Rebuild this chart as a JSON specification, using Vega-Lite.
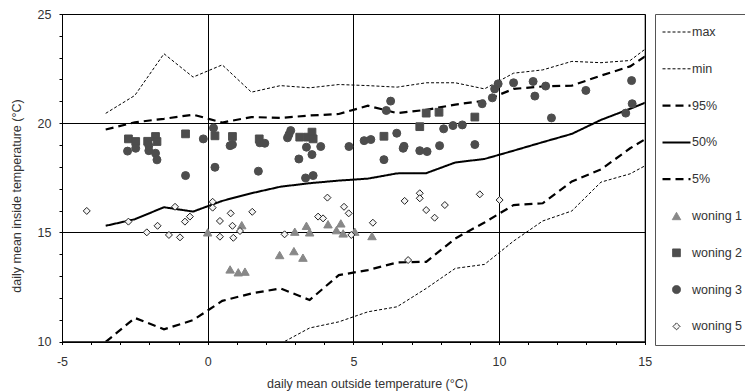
{
  "$schema": "https://vega.github.io/schema/vega-lite/v6.json",
  "width": 582.7,
  "height": 327.5,
  "autosize": "none",
  "padding": {"left": 62, "top": 14, "right": 100.3, "bottom": 50.5},
  "config": {
    "font": "Liberation Sans",
    "view": {"stroke": "#000", "strokeWidth": 1},
    "axis": {
      "domainColor": "#000", "tickColor": "#000", "gridColor": "#000", "gridWidth": 1,
      "tickSize": 3, "labelFont": "Liberation Sans", "labelFontSize": 12.5, "labelColor": "#333",
      "titleFont": "Liberation Sans", "titleFontSize": 12.5, "titleColor": "#333", "titleFontWeight": "normal",
      "labelFlush": false, "labelOverlap": false
    },
    "legend": {
      "orient": "right", "offset": 10, "padding": 6, "strokeColor": "#555", "strokeWidth": 1,
      "clipHeight": 24, "rowPadding": 12.8, "labelOffset": 0, "labelFontSize": 12.5,
      "labelColor": "#333", "labelFont": "Liberation Sans"
    }
  },
  "data": {"values": [
    {"series":"max","x":-3.5,"y":20.45},{"series":"max","x":-2.5,"y":21.27},{"series":"max","x":-1.5,"y":23.18},{"series":"max","x":-0.5,"y":22.11},{"series":"max","x":0.5,"y":22.67},{"series":"max","x":1.5,"y":21.42},{"series":"max","x":2.5,"y":21.72},{"series":"max","x":3.5,"y":21.62},{"series":"max","x":4.5,"y":21.77},{"series":"max","x":5.5,"y":21.72},{"series":"max","x":6.5,"y":21.65},{"series":"max","x":7.5,"y":21.85},{"series":"max","x":8.5,"y":21.85},{"series":"max","x":9.5,"y":21.57},{"series":"max","x":10.5,"y":22.29},{"series":"max","x":11.5,"y":22.44},{"series":"max","x":12.5,"y":22.83},{"series":"max","x":13.5,"y":22.77},{"series":"max","x":14.5,"y":22.87},{"series":"max","x":15.5,"y":23.88},
    {"series":"min","x":2.5,"y":9.9},{"series":"min","x":3.5,"y":10.62},{"series":"min","x":4.5,"y":10.9},{"series":"min","x":5.5,"y":11.36},{"series":"min","x":6.5,"y":11.59},{"series":"min","x":7.5,"y":12.43},{"series":"min","x":8.5,"y":13.35},{"series":"min","x":9.5,"y":13.53},{"series":"min","x":10.5,"y":14.6},{"series":"min","x":11.5,"y":15.52},{"series":"min","x":12.5,"y":15.98},{"series":"min","x":13.5,"y":17.3},{"series":"min","x":14.5,"y":17.68},{"series":"min","x":15.5,"y":18.4},
    {"series":"95%","x":-3.5,"y":19.71},{"series":"95%","x":-2.5,"y":20.04},{"series":"95%","x":-1.5,"y":20.2},{"series":"95%","x":-0.5,"y":20.39},{"series":"95%","x":0.5,"y":20.03},{"series":"95%","x":1.5,"y":20.28},{"series":"95%","x":2.5,"y":20.24},{"series":"95%","x":3.5,"y":20.35},{"series":"95%","x":4.5,"y":20.42},{"series":"95%","x":5.5,"y":20.8},{"series":"95%","x":6.5,"y":20.46},{"series":"95%","x":7.5,"y":20.61},{"series":"95%","x":8.5,"y":20.85},{"series":"95%","x":9.5,"y":21.03},{"series":"95%","x":10.5,"y":21.57},{"series":"95%","x":11.5,"y":21.68},{"series":"95%","x":12.5,"y":21.72},{"series":"95%","x":13.5,"y":22.18},{"series":"95%","x":14.5,"y":22.6},{"series":"95%","x":15.5,"y":23.5},
    {"series":"50%","x":-3.5,"y":15.3},{"series":"50%","x":-2.5,"y":15.6},{"series":"50%","x":-1.5,"y":16.15},{"series":"50%","x":-0.5,"y":15.95},{"series":"50%","x":0.5,"y":16.44},{"series":"50%","x":1.5,"y":16.79},{"series":"50%","x":2.5,"y":17.09},{"series":"50%","x":3.5,"y":17.25},{"series":"50%","x":4.5,"y":17.37},{"series":"50%","x":5.5,"y":17.46},{"series":"50%","x":6.5,"y":17.7},{"series":"50%","x":7.5,"y":17.71},{"series":"50%","x":8.5,"y":18.2},{"series":"50%","x":9.5,"y":18.36},{"series":"50%","x":10.5,"y":18.74},{"series":"50%","x":11.5,"y":19.13},{"series":"50%","x":12.5,"y":19.51},{"series":"50%","x":13.5,"y":20.15},{"series":"50%","x":14.5,"y":20.66},{"series":"50%","x":15.5,"y":21.2},
    {"series":"5%","x":-3.5,"y":9.98},{"series":"5%","x":-2.5,"y":11.08},{"series":"5%","x":-1.5,"y":10.56},{"series":"5%","x":-0.5,"y":10.98},{"series":"5%","x":0.5,"y":11.86},{"series":"5%","x":1.5,"y":12.2},{"series":"5%","x":2.5,"y":12.43},{"series":"5%","x":3.5,"y":11.9},{"series":"5%","x":4.5,"y":13.04},{"series":"5%","x":5.5,"y":13.27},{"series":"5%","x":6.5,"y":13.62},{"series":"5%","x":7.5,"y":13.65},{"series":"5%","x":8.5,"y":14.72},{"series":"5%","x":9.5,"y":15.45},{"series":"5%","x":10.5,"y":16.25},{"series":"5%","x":11.5,"y":16.33},{"series":"5%","x":12.5,"y":17.33},{"series":"5%","x":13.5,"y":17.88},{"series":"5%","x":14.5,"y":18.85},{"series":"5%","x":15.5,"y":19.65},
    {"series":"woning 1","x":0.0,"y":15.0},{"series":"woning 1","x":0.77,"y":13.3},{"series":"woning 1","x":1.05,"y":13.17},{"series":"woning 1","x":1.28,"y":13.2},{"series":"woning 1","x":1.17,"y":15.33},{"series":"woning 1","x":2.47,"y":13.96},{"series":"woning 1","x":2.96,"y":14.14},{"series":"woning 1","x":3.27,"y":13.84},{"series":"woning 1","x":2.99,"y":15.03},{"series":"woning 1","x":3.39,"y":15.3},{"series":"woning 1","x":3.5,"y":15.0},{"series":"woning 1","x":4.13,"y":15.37},{"series":"woning 1","x":4.42,"y":15.1},{"series":"woning 1","x":4.57,"y":15.41},{"series":"woning 1","x":4.65,"y":14.95},{"series":"woning 1","x":5.05,"y":15.03},{"series":"woning 1","x":5.64,"y":14.83},
    {"series":"woning 2","x":-2.72,"y":19.28},{"series":"woning 2","x":-2.47,"y":19.16},{"series":"woning 2","x":-2.06,"y":19.17},{"series":"woning 2","x":-1.79,"y":19.39},{"series":"woning 2","x":-1.74,"y":19.16},{"series":"woning 2","x":-0.76,"y":19.51},{"series":"woning 2","x":0.25,"y":19.42},{"series":"woning 2","x":0.85,"y":19.39},{"series":"woning 2","x":1.77,"y":19.28},{"series":"woning 2","x":3.16,"y":19.36},{"series":"woning 2","x":3.44,"y":19.36},{"series":"woning 2","x":3.58,"y":19.59},{"series":"woning 2","x":3.62,"y":19.28},{"series":"woning 2","x":6.05,"y":19.4},{"series":"woning 2","x":7.28,"y":19.84},{"series":"woning 2","x":7.5,"y":20.46},{"series":"woning 2","x":7.94,"y":20.5},{"series":"woning 2","x":9.17,"y":20.28},
    {"series":"woning 3","x":-2.75,"y":18.72},{"series":"woning 3","x":-2.47,"y":18.85},{"series":"woning 3","x":-2.02,"y":18.97},{"series":"woning 3","x":-2.02,"y":18.74},{"series":"woning 3","x":-1.79,"y":18.62},{"series":"woning 3","x":-1.74,"y":18.32},{"series":"woning 3","x":-0.76,"y":17.6},{"series":"woning 3","x":-0.15,"y":19.28},{"series":"woning 3","x":0.2,"y":19.78},{"series":"woning 3","x":0.25,"y":17.98},{"series":"woning 3","x":0.77,"y":18.97},{"series":"woning 3","x":0.85,"y":19.02},{"series":"woning 3","x":1.74,"y":17.8},{"series":"woning 3","x":1.79,"y":19.1},{"series":"woning 3","x":1.96,"y":19.08},{"series":"woning 3","x":2.74,"y":19.33},{"series":"woning 3","x":2.79,"y":19.48},{"series":"woning 3","x":2.85,"y":19.66},{"series":"woning 3","x":3.13,"y":18.36},{"series":"woning 3","x":3.39,"y":18.9},{"series":"woning 3","x":3.58,"y":18.56},{"series":"woning 3","x":3.88,"y":18.93},{"series":"woning 3","x":3.36,"y":17.49},{"series":"woning 3","x":3.62,"y":17.6},{"series":"woning 3","x":4.85,"y":18.93},{"series":"woning 3","x":5.37,"y":19.2},{"series":"woning 3","x":5.6,"y":19.25},{"series":"woning 3","x":6.05,"y":18.33},{"series":"woning 3","x":6.28,"y":21.01},{"series":"woning 3","x":6.13,"y":20.58},{"series":"woning 3","x":6.49,"y":19.54},{"series":"woning 3","x":6.74,"y":18.94},{"series":"woning 3","x":6.71,"y":18.85},{"series":"woning 3","x":7.28,"y":18.74},{"series":"woning 3","x":7.53,"y":18.7},{"series":"woning 3","x":7.96,"y":18.97},{"series":"woning 3","x":8.1,"y":19.74},{"series":"woning 3","x":8.42,"y":19.89},{"series":"woning 3","x":8.74,"y":19.92},{"series":"woning 3","x":9.17,"y":19.02},{"series":"woning 3","x":9.42,"y":20.89},{"series":"woning 3","x":9.77,"y":21.16},{"series":"woning 3","x":9.85,"y":21.57},{"series":"woning 3","x":9.97,"y":21.8},{"series":"woning 3","x":10.5,"y":21.85},{"series":"woning 3","x":11.17,"y":21.91},{"series":"woning 3","x":11.23,"y":21.24},{"series":"woning 3","x":11.6,"y":21.7},{"series":"woning 3","x":11.8,"y":20.24},{"series":"woning 3","x":12.98,"y":21.5},{"series":"woning 3","x":14.55,"y":21.95},{"series":"woning 3","x":14.57,"y":20.89},{"series":"woning 3","x":14.35,"y":20.46},
    {"series":"woning 5","x":-4.15,"y":15.98},{"series":"woning 5","x":-2.72,"y":15.49},{"series":"woning 5","x":-2.09,"y":15.0},{"series":"woning 5","x":-1.72,"y":15.3},{"series":"woning 5","x":-1.33,"y":14.88},{"series":"woning 5","x":-0.95,"y":14.77},{"series":"woning 5","x":-1.12,"y":16.17},{"series":"woning 5","x":-0.78,"y":15.49},{"series":"woning 5","x":-0.61,"y":15.72},{"series":"woning 5","x":0.17,"y":16.4},{"series":"woning 5","x":0.17,"y":16.13},{"series":"woning 5","x":0.42,"y":15.52},{"series":"woning 5","x":0.42,"y":14.8},{"series":"woning 5","x":0.79,"y":15.87},{"series":"woning 5","x":0.85,"y":15.3},{"series":"woning 5","x":0.88,"y":14.75},{"series":"woning 5","x":1.11,"y":15.06},{"series":"woning 5","x":1.53,"y":15.94},{"series":"woning 5","x":2.64,"y":14.91},{"series":"woning 5","x":3.79,"y":15.72},{"series":"woning 5","x":3.96,"y":15.64},{"series":"woning 5","x":4.11,"y":16.59},{"series":"woning 5","x":4.68,"y":16.17},{"series":"woning 5","x":4.84,"y":15.87},{"series":"woning 5","x":4.93,"y":14.88},{"series":"woning 5","x":5.67,"y":15.44},{"series":"woning 5","x":6.76,"y":16.44},{"series":"woning 5","x":6.88,"y":13.73},{"series":"woning 5","x":7.28,"y":16.79},{"series":"woning 5","x":7.28,"y":16.56},{"series":"woning 5","x":7.5,"y":16.02},{"series":"woning 5","x":7.79,"y":15.67},{"series":"woning 5","x":8.14,"y":16.25},{"series":"woning 5","x":9.34,"y":16.74},{"series":"woning 5","x":10.02,"y":16.48}
  ]},
  "encoding": {
    "x": {"field": "x", "type": "quantitative",
      "scale": {"domain": [-5, 15], "nice": false, "zero": false},
      "axis": {
        "title": "daily mean outside temperature (°C)",
        "values": [-5,-4,-3,-2,-1,0,1,2,3,4,5,6,7,8,9,10,11,12,13,14,15],
        "labelExpr": "datum.value % 5 === 0 ? '' + datum.value : ''",
        "gridOpacity": {"condition": {"test": "datum.value % 5 === 0", "value": 1}, "value": 0},
        "labelPadding": 11,
        "titleX": 305, "titleY": 42, "titleBaseline": "middle"
      }
    },
    "y": {"field": "y", "type": "quantitative",
      "scale": {"domain": [10, 25], "nice": false, "zero": false},
      "axis": {
        "title": "daily mean inside temperature (°C)",
        "values": [10,11,12,13,14,15,16,17,18,19,20,21,22,23,24,25],
        "labelExpr": "datum.value % 5 === 0 ? '' + datum.value : ''",
        "gridOpacity": {"condition": {"test": "datum.value % 5 === 0", "value": 1}, "value": 0},
        "labelPadding": 8,
        "titleX": -46, "titleY": 181.5, "titleBaseline": "middle", "titleAlign": "center", "titleAngle": -90
      }
    }
  },
  "layer": [
    {
      "transform": [{"filter": {"field": "series", "oneOf": ["max", "min", "95%", "50%", "5%"]}}],
      "mark": {"type": "line", "clip": true},
      "encoding": {
        "stroke": {"field": "series", "type": "nominal", "title": null,
          "scale": {"type": "ordinal", "domain": ["max","min","95%","50%","5%","woning 1","woning 2","woning 3","woning 5"],
                    "range": ["#000","#000","#000","#000","#000","#888888","#4d4d4d","#4d4d4d","#222222"]}},
        "strokeDash": {"field": "series", "type": "nominal", "title": null,
          "scale": {"type": "ordinal", "domain": ["max","min","95%","50%","5%","woning 1","woning 2","woning 3","woning 5"],
                    "range": [[3,2],[3,2],[8,5],[1,0],[8,5],[1,0],[1,0],[1,0],[1,0]]}},
        "strokeWidth": {"field": "series", "type": "nominal", "title": null,
          "scale": {"type": "ordinal", "domain": ["max","min","95%","50%","5%","woning 1","woning 2","woning 3","woning 5"],
                    "range": [1,1,2.2,2,2.2,1,1,1,1]}}
      }
    },
    {
      "transform": [{"filter": {"field": "series", "oneOf": ["woning 1", "woning 2", "woning 3", "woning 5"]}}],
      "mark": {"type": "point", "filled": true, "opacity": 1, "strokeWidth": 1},
      "encoding": {
        "fill": {"field": "series", "type": "nominal", "title": null,
          "scale": {"type": "ordinal", "domain": ["max","min","95%","50%","5%","woning 1","woning 2","woning 3","woning 5"],
                    "range": ["#000","#000","#000","#000","#000","#888888","#4d4d4d","#4d4d4d","#f4f4f4"]}},
        "stroke": {"field": "series", "type": "nominal", "title": null},
        "shape": {"field": "series", "type": "nominal", "title": null,
          "scale": {"type": "ordinal", "domain": ["max","min","95%","50%","5%","woning 1","woning 2","woning 3","woning 5"],
                    "range": ["stroke","stroke","stroke","stroke","stroke","triangle-up","square","circle","diamond"]}},
        "size": {"field": "series", "type": "nominal", "title": null,
          "scale": {"type": "ordinal", "domain": ["max","min","95%","50%","5%","woning 1","woning 2","woning 3","woning 5"],
                    "range": [784,784,784,784,784,72,60,64,49]}}
      }
    }
  ]
}
